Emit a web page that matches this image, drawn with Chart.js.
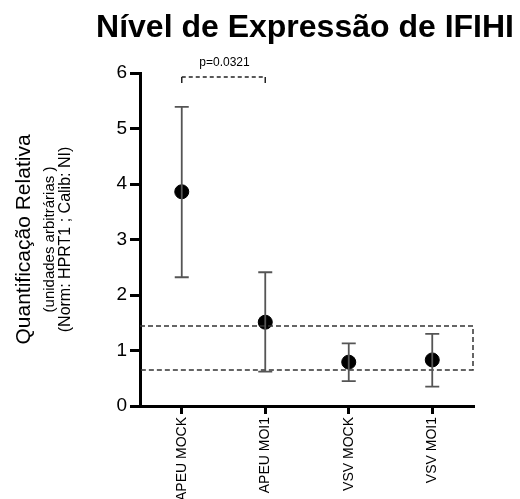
<!DOCTYPE html>
<html>
<head>
<meta charset="utf-8">
<script src="https://cdn.jsdelivr.net/npm/chart.js@4"></script>
<style>
  html, body { margin: 0; padding: 0; background: #fff; }
  #wrap { width: 520px; height: 499px; position: relative; }
</style>
</head>
<body>
<div id="wrap"><canvas id="chart"></canvas></div>
<script>
// Dados do gráfico
const categories = ['APEU MOCK', 'APEU MOI1', 'VSV MOCK', 'VSV MOI1'];
const means = [3.86, 1.51, 0.79, 0.83];
const upperErr = [5.39, 2.41, 1.13, 1.30];
const lowerErr = [2.32, 0.62, 0.45, 0.35];
const yTicks = [0, 1, 2, 3, 4, 5, 6];
const refBand = [0.65, 1.44];          // faixa tracejada (limites inferior / superior)
const bracketPair = [0, 1];            // comparação APEU MOCK x APEU MOI1
const bracketLevel = 5.93;
const pLabel = 'p=0.0321';
const titleText = 'Nível de Expressão de IFIHI';
const yTitleLines = ['Quantificação Relativa', '(unidades arbitrárias )', '(Norm: HPRT1 ; Calib: NI)'];

const FONT = '"Liberation Sans", Arial, sans-serif';

// Plugin: título, barras de erro, faixa tracejada, colchete com p-valor e título do eixo y
const extrasPlugin = {
    id: 'extras',
    afterDatasetsDraw(chart) {
        const ctx = chart.ctx;
        const xs = chart.scales.x;
        const ys = chart.scales.y;
        const area = chart.chartArea;

        // Título (desenhado à mão para não ser comprimido pelo maxWidth)
        ctx.save();
        ctx.fillStyle = '#000';
        ctx.font = 'bold 32px ' + FONT;
        ctx.textAlign = 'center';
        ctx.textBaseline = 'alphabetic';
        ctx.fillText(titleText, (area.left + area.right) / 2 - 2, area.top - 36);
        ctx.restore();

        // Faixa tracejada
        ctx.save();
        ctx.strokeStyle = '#333';
        ctx.lineWidth = 1.5;
        ctx.setLineDash([5, 3]);
        const bTop = ys.getPixelForValue(refBand[1]);
        const bBot = ys.getPixelForValue(refBand[0]);
        ctx.beginPath();
        ctx.moveTo(area.left, bTop);
        ctx.lineTo(area.right - 1, bTop);
        ctx.lineTo(area.right - 1, bBot);
        ctx.lineTo(area.left, bBot);
        ctx.stroke();
        ctx.restore();

        // Barras de erro
        ctx.save();
        ctx.strokeStyle = '#555';
        ctx.lineWidth = 1.8;
        categories.forEach((c, i) => {
            const x = xs.getPixelForValue(i);
            const yU = ys.getPixelForValue(upperErr[i]);
            const yL = ys.getPixelForValue(lowerErr[i]);
            ctx.beginPath();
            ctx.moveTo(x, yU); ctx.lineTo(x, yL);
            ctx.moveTo(x - 7, yU); ctx.lineTo(x + 7, yU);
            ctx.moveTo(x - 7, yL); ctx.lineTo(x + 7, yL);
            ctx.stroke();
        });
        ctx.restore();

        // Colchete de significância
        ctx.save();
        const x1 = xs.getPixelForValue(bracketPair[0]);
        const x2 = xs.getPixelForValue(bracketPair[1]);
        const yb = ys.getPixelForValue(bracketLevel);
        ctx.strokeStyle = '#222';
        ctx.lineWidth = 1.5;
        ctx.setLineDash([4, 3]);
        ctx.beginPath();
        ctx.moveTo(x1, yb); ctx.lineTo(x2, yb);
        ctx.stroke();
        ctx.setLineDash([]);
        ctx.beginPath();
        ctx.moveTo(x1, yb); ctx.lineTo(x1, yb + 6);
        ctx.moveTo(x2, yb); ctx.lineTo(x2, yb + 6);
        ctx.stroke();
        ctx.fillStyle = '#000';
        ctx.font = '12px ' + FONT;
        ctx.textAlign = 'center';
        ctx.textBaseline = 'middle';
        ctx.fillText(pLabel, (x1 + x2) / 2 + 1, yb - 14);
        ctx.restore();

        // Título do eixo y (três linhas)
        ctx.save();
        ctx.fillStyle = '#000';
        ctx.textAlign = 'center';
        ctx.textBaseline = 'middle';
        const cy = (area.top + area.bottom) / 2;
        const cols = [[24, '21px ' + FONT], [50, '15px ' + FONT], [66, '16px ' + FONT]];
        yTitleLines.forEach((t, i) => {
            ctx.save();
            ctx.translate(cols[i][0], cy);
            ctx.rotate(-Math.PI / 2);
            ctx.font = cols[i][1];
            ctx.fillText(t, 0, 0);
            ctx.restore();
        });
        ctx.restore();
    }
};

const ctx = document.getElementById('chart').getContext('2d');
const chart = new Chart(ctx, {
    type: 'line',
    data: {
        labels: categories,
        datasets: [{
            data: means,
            showLine: false,
            pointRadius: 7,
            pointHoverRadius: 7,
            pointBackgroundColor: '#000',
            pointBorderColor: '#000'
        }]
    },
    options: {
        responsive: true,
        maintainAspectRatio: false,
        animation: false,
        layout: { padding: { top: 73, right: 46, bottom: 0, left: 0 } },
        plugins: {
            legend: { display: false },
            tooltip: { enabled: false },
            title: { display: false }
        },
        scales: {
            x: {
                type: 'category',
                offset: true,
                border: { color: '#000', width: 3 },
                grid: { display: true, drawOnChartArea: false, offset: false, tickLength: 8, tickWidth: 3, tickColor: '#000' },
                ticks: {
                    color: '#000',
                    autoSkip: false,
                    minRotation: 90,
                    maxRotation: 90,
                    padding: 3,
                    font: { family: FONT, size: 14 }
                },
                afterFit(scale) { scale.height = 93; }
            },
            y: {
                min: 0,
                max: 6,
                border: { color: '#000', width: 3 },
                grid: { display: true, drawOnChartArea: false, tickLength: 10, tickWidth: 3, tickColor: '#000' },
                afterBuildTicks(scale) { scale.ticks = yTicks.map(v => ({ value: v })); },
                ticks: {
                    color: '#000',
                    padding: 3,
                    font: { family: FONT, size: 19 }
                },
                afterFit(scale) { scale.width = 140; }
            }
        }
    },
    plugins: [extrasPlugin]
});
</script>
</body>
</html>
